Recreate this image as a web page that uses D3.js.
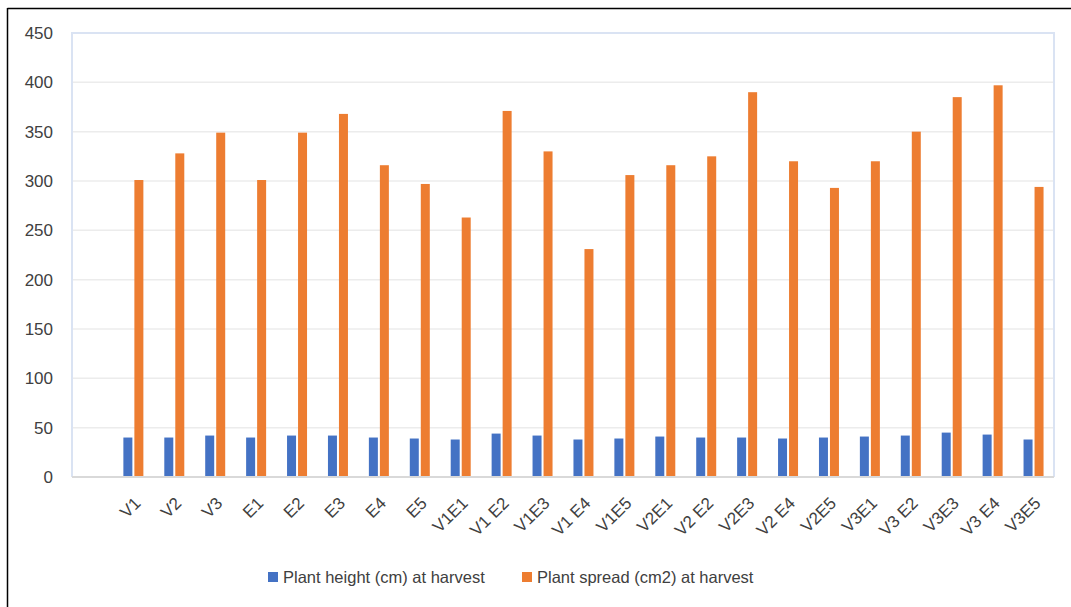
<!DOCTYPE html>
<html>
<head>
<meta charset="utf-8">
<title>Plant height and spread</title>
<style>
  body {margin: 0; background: white;}
  svg text {font-family: "Liberation Sans", Arial, sans-serif; fill: #404040;}
</style>
</head>
<body>
<div id="chart"></div>
<script src="https://cdn.jsdelivr.net/npm/d3@7"></script>
<script>
// first category is an empty row in the source sheet
var categories = ["", "V1", "V2", "V3", "E1", "E2", "E3", "E4", "E5", "V1E1", "V1 E2", "V1E3", "V1 E4",
                  "V1E5", "V2E1", "V2 E2", "V2E3", "V2 E4", "V2E5", "V3E1", "V3 E2", "V3E3", "V3 E4", "V3E5"];
var plantHeight = [null, 40, 40, 42, 40, 42, 42, 40, 39, 38, 44, 42, 38,
                   39, 41, 40, 40, 39, 40, 41, 42, 45, 43, 38];
var plantSpread = [null, 301, 328, 349, 301, 349, 368, 316, 297, 263, 371, 330, 231,
                   306, 316, 325, 390, 320, 293, 320, 350, 385, 397, 294];
var seriesNames = ["Plant height (cm) at harvest", "Plant spread (cm2) at harvest"];
var colors = ["#4472c4", "#ed7d31"];
var yTicks = [0, 50, 100, 150, 200, 250, 300, 350, 400, 450];

var W = 1071, H = 607;
var svg = d3.select("#chart").append("svg").attr("width", W).attr("height", H);

// outer frame (top and left edges visible)
svg.append("line").attr("x1", 7.5).attr("x2", W).attr("y1", 8.5).attr("y2", 8.5)
   .attr("stroke", "#000").attr("stroke-width", 1.5);
svg.append("line").attr("x1", 7.5).attr("x2", 7.5).attr("y1", 8).attr("y2", H)
   .attr("stroke", "#000").attr("stroke-width", 1.5);

var plot = {left: 72, right: 1054, top: 33, bottom: 477};

var x = d3.scaleBand().domain(categories).range([plot.left, plot.right]);
var y = d3.scaleLinear().domain([0, 450]).range([plot.bottom, plot.top]);

// gridlines
svg.append("g").selectAll("line").data(yTicks.slice(1))
   .join("line")
   .attr("x1", plot.left).attr("x2", plot.right)
   .attr("y1", d => y(d)).attr("y2", d => y(d))
   .attr("stroke", "#ececec").attr("stroke-width", 1.5);

// plot area border (left, top, right)
svg.append("path")
   .attr("d", "M" + plot.left + "," + plot.bottom + "V" + plot.top + "H" + plot.right + "V" + plot.bottom)
   .attr("fill", "none").attr("stroke", "#dae3f3").attr("stroke-width", 2);

// y axis labels
var yAxis = svg.append("g").attr("transform", "translate(53,0)")
   .call(d3.axisLeft(y).tickValues(yTicks).tickSize(0).tickPadding(0));
yAxis.select(".domain").remove();
yAxis.selectAll("text").attr("font-size", 17).attr("fill", "#404040")
   .style("font-family", "'Liberation Sans', Arial, sans-serif");

// bars
var bw = 9;
var rows = categories.map((c, i) => ({cat: c, h: plantHeight[i], s: plantSpread[i]}))
                     .filter(d => d.h != null);
var g = svg.append("g");
g.selectAll("rect.h").data(rows).join("rect").attr("class", "h")
  .attr("x", d => x(d.cat) + x.bandwidth() / 2 - bw - 1)
  .attr("y", d => y(d.h)).attr("width", bw).attr("height", d => y(0) - y(d.h))
  .attr("fill", colors[0]);
g.selectAll("rect.s").data(rows).join("rect").attr("class", "s")
  .attr("x", d => x(d.cat) + x.bandwidth() / 2 + 1)
  .attr("y", d => y(d.s)).attr("width", bw).attr("height", d => y(0) - y(d.s))
  .attr("fill", colors[1]);

// zero axis line
svg.append("line").attr("x1", plot.left).attr("x2", plot.right)
   .attr("y1", y(0)).attr("y2", y(0))
   .attr("stroke", "#d9d9d9").attr("stroke-width", 2);

// x axis labels, rotated
var xAxis = svg.append("g").attr("transform", "translate(0," + y(0) + ")")
   .call(d3.axisBottom(x).tickSize(0).tickPadding(0));
xAxis.select(".domain").remove();
xAxis.selectAll("text")
   .attr("font-size", 17).attr("fill", "#404040")
   .style("font-family", "'Liberation Sans', Arial, sans-serif")
   .attr("text-anchor", "end")
   .attr("transform", "translate(4,23) rotate(-45)")
   .attr("dy", "0.35em").attr("y", 0);

// legend
var legend = svg.append("g").attr("transform", "translate(0,577)");
var legX = [268, 522];
seriesNames.forEach(function(name, i) {
  legend.append("rect").attr("x", legX[i]).attr("y", -5).attr("width", 10).attr("height", 10)
        .attr("fill", colors[i]);
  legend.append("text").attr("x", legX[i] + 15).attr("y", 0).attr("dy", "0.35em")
        .attr("font-size", 16.5).text(name);
});
</script>
</body>
</html>
